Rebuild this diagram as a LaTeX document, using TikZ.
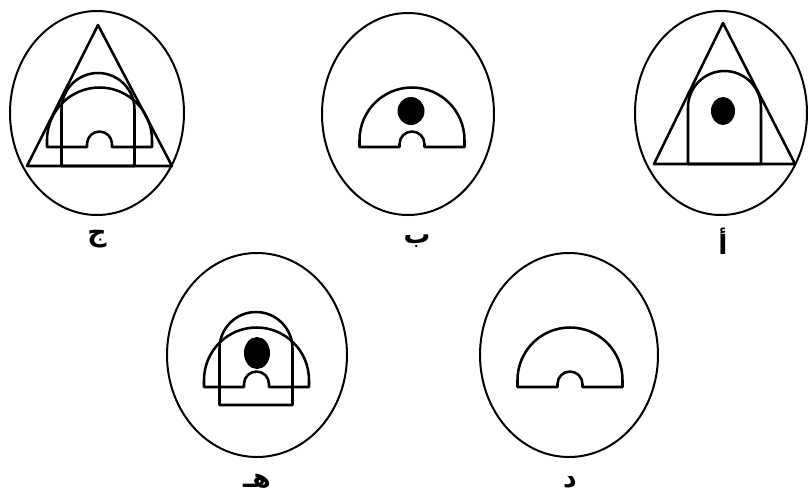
\documentclass[tikz,border=0pt]{standalone}
\usepackage{fontspec}
\newfontfamily\arabicfont[Script=Arabic]{DejaVu Sans}
\TeXXeTstate=1
\begin{document}
\begin{tikzpicture}[x=0.75pt,y=-0.75pt,
  line/.style={line width=1.9pt,line join=round},
  ring/.style={line width=1.5pt},
  lbl/.style={font=\arabicfont\bfseries\fontsize{20}{22}\selectfont,inner sep=0pt},
  halfdisc/.pic={\draw[line] (-52.5,0) -- (-52.5,-7) arc[start angle=180,end angle=360,radius=52.5]
      -- (52.5,0) -- (12.5,0) -- (12.5,-3) arc[start angle=0,end angle=-180,radius=12.5]
      -- (-12.5,0) -- cycle;},
  archshape/.pic={\draw[line] (-36.5,0) -- (-36.5,-56.5) arc[start angle=180,end angle=360,radius=36.5]
      -- (36.5,0) -- cycle;}
]
\useasboundingbox (0,0) rectangle (808,494);
% ج
\draw[ring] (97,113) ellipse [x radius=87, y radius=102];
\draw[line] (98,25) -- (27,166) -- (172,166) -- cycle;
\pic at (98,166) {archshape};
\pic at (99.5,147) {halfdisc};
\node[lbl] (labj) at (97,239) {\beginR ج\endR};
% ب
\draw[ring] (408,114) ellipse [x radius=86, y radius=101];
\pic at (412,147) {halfdisc};
\fill (411,111) ellipse [x radius=13.5, y radius=14];
\node[lbl] (labb) at (417,241) {\beginR ب\endR};
% أ
\draw[ring] (721,113) ellipse [x radius=86, y radius=102];
\draw[line] (723,23) -- (654,164) -- (795,164) -- cycle;
\pic at (724.5,164) {archshape};
\fill (723,111) ellipse [x radius=12, y radius=14];
\node[lbl] (laba) at (723,241) {\beginR أ\endR};
% هـ
\draw[ring] (257,355) ellipse [x radius=90, y radius=102];
\pic at (256,405) {archshape};
\pic at (256.5,387) {halfdisc};
\fill (257,353) ellipse [x radius=13, y radius=16];
\node[lbl] (labh) at (257,481) {\beginR هـ\endR};
% د
\draw[ring] (569,355) ellipse [x radius=89, y radius=102];
\pic at (570,387) {halfdisc};
\node[lbl] (labd) at (570,482) {\beginR د\endR};
\end{tikzpicture}
\end{document}
